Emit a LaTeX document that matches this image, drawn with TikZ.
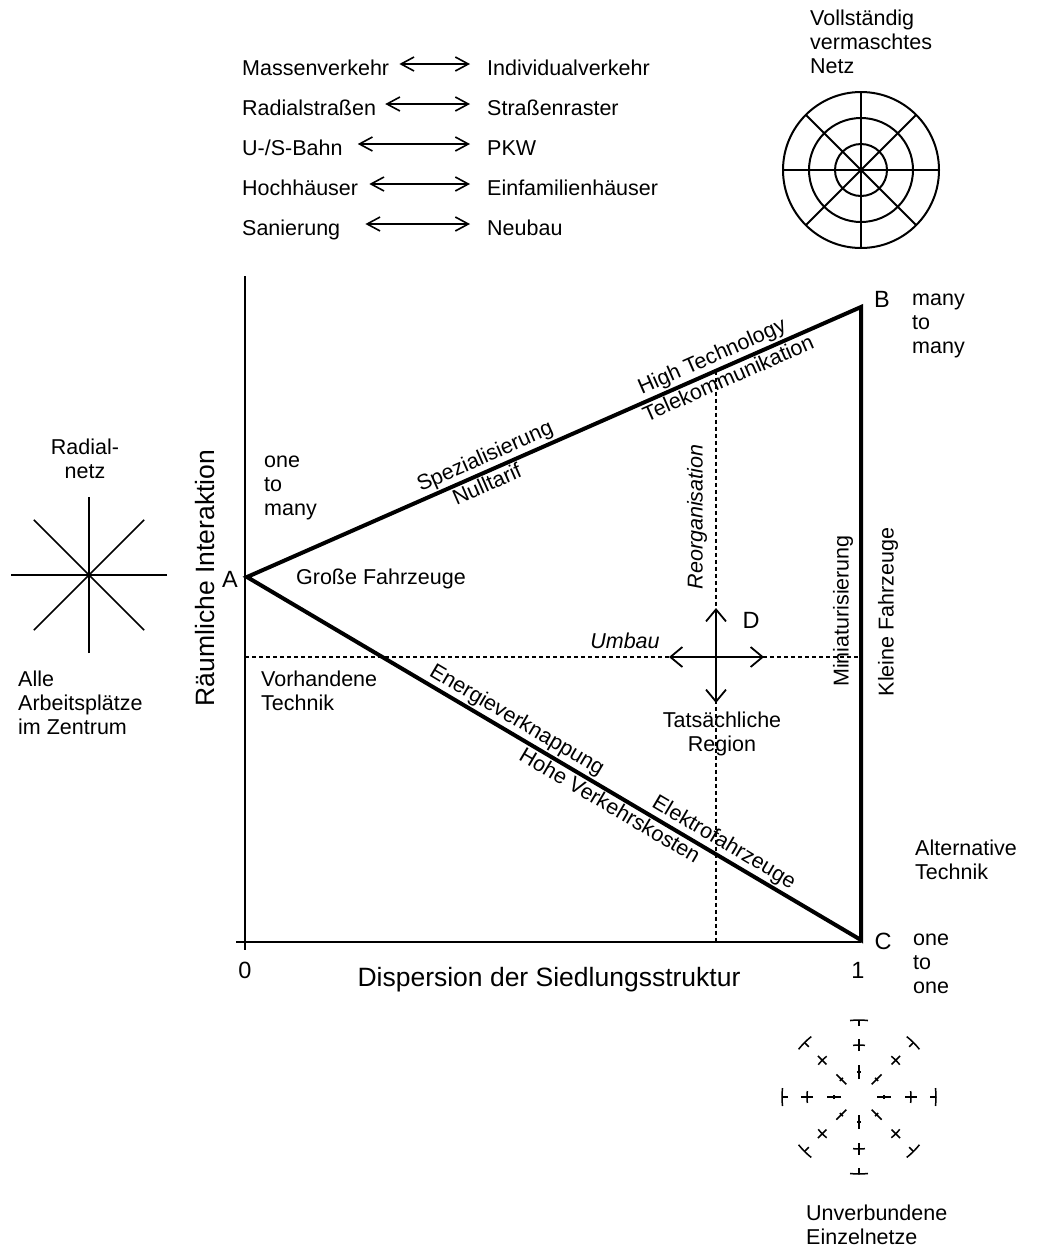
\documentclass[tikz,border=0pt]{standalone}
\usepackage{fontspec}
\setmainfont{Liberation Sans}
\usepackage{tikz}
\usetikzlibrary{positioning}
\usetikzlibrary{arrows.meta}
\tikzset{>={Straight Barb[length=13pt,width=14pt]}}

\begin{document}
\begin{tikzpicture}[x=1pt, y=-1pt, font=\fontsize{21.5}{24}\selectfont, textnode/.style={inner sep=0pt, align=left}, bignode/.style={inner sep=0pt, font=\fontsize{26.5}{28}\selectfont}, letternode/.style={inner sep=0pt, font=\fontsize{23.5}{26}\selectfont}, listnode/.style={inner sep=0pt, anchor=base west, text height=22pt, text depth=0pt}, pair/.style={<->, line width=1.6pt}, cross/.style={<->, line width=1.8pt, >={Straight Barb[length=12pt,width=20pt]}}, edge/.style={line width=4pt, line join=miter}, axis/.style={line width=2pt}, guide/.style={line width=1.5pt, dash pattern=on 4pt off 3pt}, net/.style={line width=2pt}, thinnet/.style={line width=1.5pt}]
    \useasboundingbox (0,0) rectangle (1045,1248);

    %Coordinates
    \coordinate (A) at (247,577);
    \coordinate (B) at (861,307);
    \coordinate (C) at (861,940);
    \coordinate (ytop) at (245,276);
    \coordinate (ybottom) at (245,950);
    \coordinate (xleft) at (236,942);
    \coordinate (xright) at (861,942);
    \coordinate (hleft) at (245,657);
    \coordinate (hright) at (861,657);
    \coordinate (vtop) at (716,370.5);
    \coordinate (vbottom) at (716,942);
    \coordinate (Dup) at (716,608);
    \coordinate (Ddown) at (716,703);
    \coordinate (Dleft) at (669,657);
    \coordinate (Dright) at (764,657);
    \coordinate (radial) at (89,575);
    \coordinate (mesh) at (861,170);
    \coordinate (single) at (859,1097);

    %Nodes
    \node[listnode](mass) at (242,75){Massenverkehr};
    \node[listnode](indiv) at (487,75){Individualverkehr};
    \node[listnode](radialstr) at (242,115){Radialstraßen};
    \node[listnode](raster) at (487,115){Straßenraster};
    \node[listnode](bahn) at (242,155){U-/S-Bahn};
    \node[listnode](pkw) at (487,155){PKW};
    \node[listnode](hoch) at (242,195){Hochhäuser};
    \node[listnode](einfam) at (487,195){Einfamilienhäuser};
    \node[listnode](sanierung) at (242,235){Sanierung};
    \node[listnode](neubau) at (487,235){Neubau};

    \node[textnode, anchor=west](mesh_text) at (810,42){Vollständig\\vermaschtes\\Netz};
    \node[textnode, align=center](radial_text) at (85,458.5){Radial-\\netz};
    \node[textnode, anchor=west](zentrum) at (18,703){Alle\\Arbeitsplätze\\im Zentrum};
    \node[textnode, anchor=west](single_text) at (806,1225){Unverbundene\\Einzelnetze};

    \node[bignode, rotate=90](yaxis) at (205,578){Räumliche Interaktion};
    \node[bignode](xaxis) at (549,980){Dispersion der Siedlungsstruktur};
    \node[letternode](zero) at (245,970){0};
    \node[letternode](one) at (858,970){1};
    \node[letternode](A_text) at (230,579){A};
    \node[letternode](B_text) at (882,299){B};
    \node[letternode](C_text) at (883,941){C};
    \node[letternode](D_text) at (751,620){D};

    \node[textnode, anchor=west](one_many) at (264,488){one\\to\\many};
    \node[textnode, anchor=west](many_many) at (912,325.5){many\\to\\many};
    \node[textnode, anchor=west](one_one) at (913,964){one\\to\\one};
    \node[textnode, anchor=west](alternative) at (915,860){Alternative\\Technik};
    \node[textnode, anchor=west](vorhanden) at (261,691){Vorhandene\\Technik};
    \node[textnode](grosse) at (381,579){Große Fahrzeuge};
    \node[textnode](umbau) at (625,641){\itshape Umbau};
    \node[textnode, rotate=90](reorg) at (697,517){\itshape Reorganisation};
    \node[textnode, rotate=90](mini) at (843,611){Miniaturisierung};
    \node[textnode, rotate=90](kleine) at (888,612){Kleine Fahrzeuge};
    \node[textnode, align=center](region) at (722,734){Tatsächliche\\Region};

    %Lines
    \draw[pair, shorten <=10pt, shorten >=17pt] (mass.east) -- (indiv.west);
    \draw[pair, shorten <=9pt, shorten >=17pt] (radialstr.east) -- (raster.west);
    \draw[pair, shorten <=15pt, shorten >=17pt] (bahn.east) -- (pkw.west);
    \draw[pair, shorten <=11pt, shorten >=17pt] (hoch.east) -- (einfam.west);
    \draw[pair, shorten <=25pt, shorten >=17pt] (sanierung.east) -- (neubau.west);

    \draw[axis] (ytop) -- (ybottom);
    \draw[axis] (xleft) -- (xright);
    \draw[guide] (hleft) -- (hright);
    \draw[guide] (vtop) -- (vbottom);
    \draw[cross] (Dup) -- (Ddown);
    \draw[cross] (Dleft) -- (Dright);

    \draw[edge] (C) -- (A) -- (B) -- cycle;
    \path (A) -- (B) node[pos=.397, sloped, above]{Spezialisierung} node[pos=.383, sloped, below]{Nulltarif} node[pos=.767, sloped, above]{High Technology} node[pos=.776, sloped, below]{Telekommunikation};
    \path (A) -- (C) node[pos=.428, sloped, above]{Energieverknappung} node[pos=.601, sloped, below]{Hohe Verkehrskosten} node[pos=.765, sloped, above]{Elektrofahrzeuge};

    %Networks
    \foreach \a in {0,45,90,135}
        \draw[thinnet] (radial) ++(\a:78) -- ++(\a+180:156);
    \foreach \r in {26,52,78}
        \draw[net] (mesh) circle[radius=\r];
    \foreach \a in {0,45,90,135}
        \draw[net] (mesh) ++(\a:78) -- ++(\a+180:156);
    \foreach \a in {0,45,...,315} {
        \draw[thinnet] (single) ++(\a:18) -- ++(\a:14);
        \draw[thinnet] (single) ++(\a-5:25) arc[start angle=\a-5, end angle=\a+5, radius=25];
        \draw[thinnet] (single) ++(\a:46) -- ++(\a:12);
        \draw[thinnet] (single) ++(\a-6.6:52) arc[start angle=\a-6.6, end angle=\a+6.6, radius=52];
        \draw[thinnet] (single) ++(\a:71) -- ++(\a:6);
        \draw[thinnet] (single) ++(\a-6.7:77) arc[start angle=\a-6.7, end angle=\a+6.7, radius=77];
    }

\end{tikzpicture}
\end{document}
